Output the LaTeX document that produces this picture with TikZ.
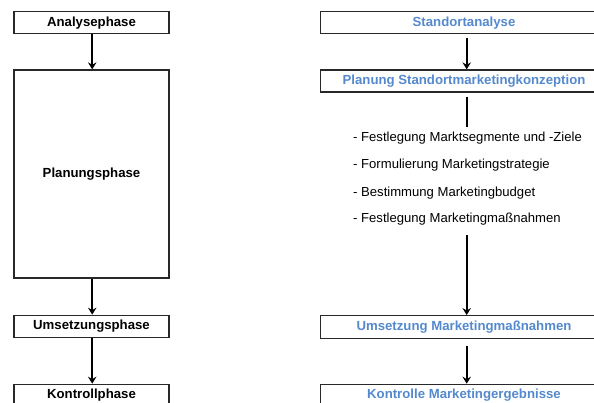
\documentclass[tikz,border=0pt]{standalone}
\usepackage{fontspec}
\setmainfont{Liberation Sans}
\usetikzlibrary{arrows.meta}
\definecolor{boxblue}{RGB}{84,137,205}
\definecolor{boxline}{RGB}{40,40,40}
\tikzset{
  phase/.style={draw=boxline, line width=1.3pt, minimum width=155pt, inner sep=0pt, font=\fontsize{13.2}{15}\selectfont\bfseries},
  rbox/.style={draw=boxline, line width=1.3pt, minimum width=287pt, minimum height=22pt, inner sep=0pt, text=boxblue, font=\fontsize{13.2}{15}\selectfont\bfseries},
  item/.style={anchor=west, inner sep=0pt, font=\fontsize{13.1}{15}\selectfont},
  flow/.style={line width=1.9pt, -{Stealth[length=7pt,width=8.5pt,inset=2.5pt]}},
  plain/.style={line width=1.9pt}
}
\begin{document}
\begin{tikzpicture}[x=1pt,y=-1pt]
\useasboundingbox (0,0) rectangle (594,403);
\clip (0,0) rectangle (594,403);
% left column
\node[phase, minimum height=22pt] (a) at (91.5,22.7) {Analysephase};
\node[phase, minimum height=208pt] (p) at (91.5,174) {Planungsphase};
\node[phase, minimum height=22.4pt] (u) at (91.5,326.5) {Umsetzungsphase};
\node[phase, minimum height=22pt] (k) at (91.5,395.3) {Kontrollphase};
\coordinate (l1) at (92.2,0);
\draw[flow] (l1 |- a.south) -- (l1 |- p.north);
\draw[flow] (l1 |- p.south) -- (l1 |- u.north);
\draw[flow] (l1 |- u.south) -- (l1 |- k.north);
% right column
\node[rbox] (s) at (464,22.7) {Standortanalyse};
\node[rbox] (pk) at (464,81) {Planung Standortmarketingkonzeption};
\node[rbox, minimum height=22.6pt] (um) at (464,327) {Umsetzung Marketingmaßnahmen};
\node[rbox] (ko) at (464,395.3) {Kontrolle Marketingergebnisse};
\node[item] (i1) at (353,137.7) {- Festlegung Marktsegmente und -Ziele};
\node[item] (i2) at (353,165) {- Formulierung Marketingstrategie};
\node[item] (i3) at (353,192.7) {- Bestimmung Marketingbudget};
\node[item] (i4) at (353,219.3) {- Festlegung Marketingmaßnahmen};
\coordinate (c1) at (466.7,97);
\coordinate (c2) at (466.7,127);
\coordinate (c3) at (466.7,235);
\coordinate (c4) at (466.7,38);
\coordinate (c5) at (466.7,345.7);
\draw[flow] (c4) -- (c4 |- pk.north);
\draw[plain] (c1) -- (c2);
\draw[flow] (c3) -- (c3 |- um.north);
\draw[flow] (c5) -- (c5 |- ko.north);
\end{tikzpicture}
\end{document}
